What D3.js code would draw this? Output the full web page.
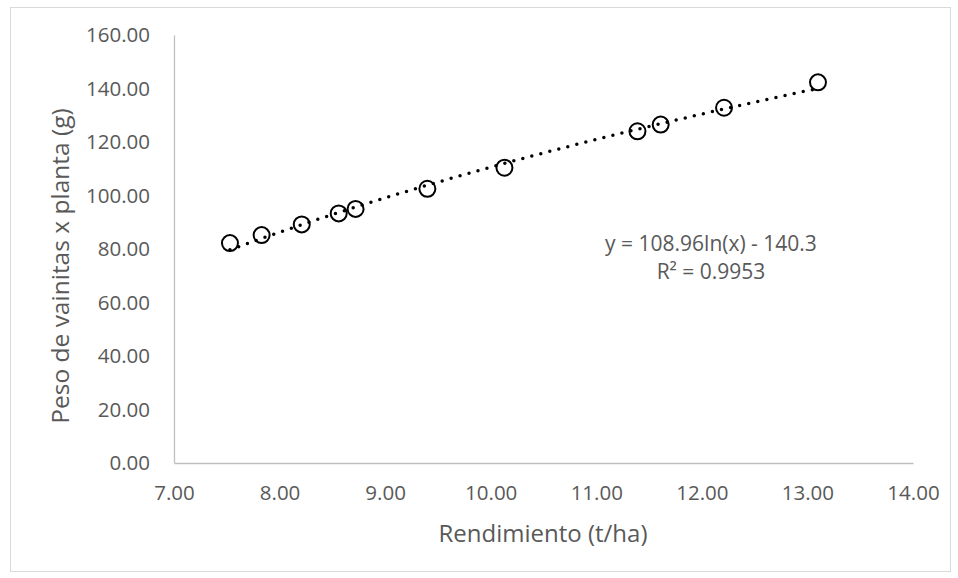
<!DOCTYPE html>
<html>
<head>
<meta charset="utf-8">
<script src="https://cdn.jsdelivr.net/npm/d3@7.9.0/dist/d3.min.js"></script>
<style>
  body { margin: 0; background: #fff; }
  svg text { font-family: "Open Sans", "Liberation Sans", sans-serif; fill: #595959; }
</style>
</head>
<body>
<svg id="chart" width="958" height="578"></svg>
<script>
// data
const rendimiento = [7.53, 7.83, 8.21, 8.56, 8.72, 9.40, 10.13, 11.39, 11.61, 12.21, 13.10];
const pesoVainitas = [82.2, 85.2, 89.2, 93.3, 95.0, 102.5, 110.4, 124.0, 126.5, 132.8, 142.3];
const xTicks = [7, 8, 9, 10, 11, 12, 13, 14];
const yTicks = [0, 20, 40, 60, 80, 100, 120, 140, 160];
const trendA = 108.96, trendB = -140.3;

const svg = d3.select('#chart');

// outer chart border
svg.append('rect')
  .attr('x', 10.5).attr('y', 7.5)
  .attr('width', 940).attr('height', 564)
  .attr('fill', '#fff').attr('stroke', '#d9d9d9');

const x = d3.scaleLinear().domain([7, 14]).range([174, 913]);
const y = d3.scaleLinear().domain([0, 160]).range([463, 35]);

// axes
const xAxis = svg.append('g')
  .attr('transform', `translate(0,${y(0)})`)
  .call(d3.axisBottom(x).tickValues(xTicks).tickFormat(d3.format('.2f')).tickSize(0).tickPadding(22));
const yAxis = svg.append('g')
  .attr('transform', `translate(${x(7)},0)`)
  .call(d3.axisLeft(y).tickValues(yTicks).tickFormat(d3.format('.2f')).tickSize(0).tickPadding(24));

[xAxis, yAxis].forEach(g => {
  g.select('.domain').attr('stroke', '#bfbfbf').attr('stroke-width', 1.3);
  g.selectAll('text').attr('font-size', 20.5).attr('fill', '#595959')
    .attr('font-family', '"Open Sans", sans-serif');
});

// axis titles
svg.append('text')
  .attr('x', 543).attr('y', 542)
  .attr('text-anchor', 'middle')
  .attr('font-size', 24)
  .text('Rendimiento (t/ha)');

svg.append('text')
  .attr('transform', 'translate(69,266) rotate(-90)')
  .attr('text-anchor', 'middle')
  .attr('font-size', 24.5)
  .text('Peso de vainitas x planta (g)');

// markers
const points = rendimiento.map((d, i) => ({ x: d, y: pesoVainitas[i] }));
svg.append('g')
  .selectAll('circle')
  .data(points)
  .join('circle')
  .attr('cx', d => x(d.x))
  .attr('cy', d => y(d.y))
  .attr('r', 8)
  .attr('fill', 'none')
  .attr('stroke', '#000')
  .attr('stroke-width', 2);

// logarithmic trendline, dotted
const xMin = d3.min(rendimiento), xMax = d3.max(rendimiento);
const trend = d3.range(0, 101).map(i => {
  const xv = xMin + (xMax - xMin) * i / 100;
  return { x: xv, y: trendA * Math.log(xv) + trendB };
});
svg.append('path')
  .datum(trend)
  .attr('d', d3.line().x(d => x(d.x)).y(d => y(d.y)))
  .attr('fill', 'none')
  .attr('stroke', '#000')
  .attr('stroke-width', 3.5)
  .attr('stroke-linecap', 'round')
  .attr('stroke-dasharray', '0 9.3');

// equation label
svg.append('text')
  .attr('x', 711).attr('y', 251)
  .attr('text-anchor', 'middle')
  .attr('font-size', 21)
  .text('y = 108.96ln(x) - 140.3');
svg.append('text')
  .attr('x', 711).attr('y', 279)
  .attr('text-anchor', 'middle')
  .attr('font-size', 21)
  .text('R² = 0.9953');
</script>
</body>
</html>
